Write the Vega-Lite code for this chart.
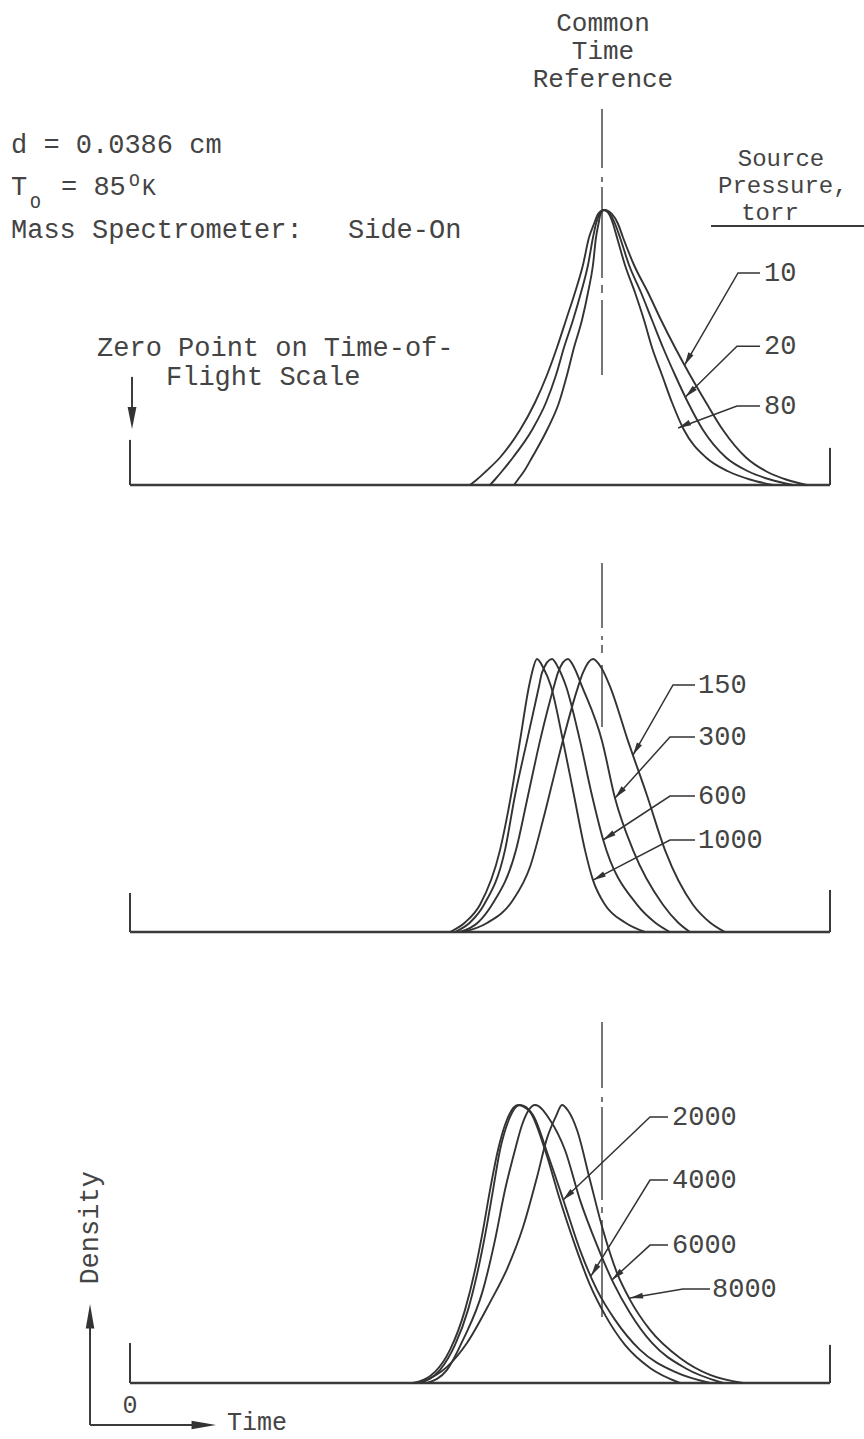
{
  "$schema": "https://vega.github.io/schema/vega-lite/v6.json",
  "background": "white",
  "padding": 0,
  "spacing": 0,
  "bounds": "flush",
  "config": {"view": {"stroke": null}},
  "resolve": {"scale": {"y": "independent"}},
  "datasets": {
    "curves": [
      {"panel":1,"p":"10","t":48.57,"d":0},{"panel":1,"p":"10","t":49.57,"d":0.02},{"panel":1,"p":"10","t":50.86,"d":0.05},{"panel":1,"p":"10","t":52.86,"d":0.1},{"panel":1,"p":"10","t":55.71,"d":0.2},{"panel":1,"p":"10","t":57.86,"d":0.3},{"panel":1,"p":"10","t":59.57,"d":0.4},{"panel":1,"p":"10","t":61.0,"d":0.5},{"panel":1,"p":"10","t":62.29,"d":0.6},{"panel":1,"p":"10","t":63.57,"d":0.7},{"panel":1,"p":"10","t":64.71,"d":0.8},{"panel":1,"p":"10","t":65.57,"d":0.9},{"panel":1,"p":"10","t":66.29,"d":0.95},{"panel":1,"p":"10","t":66.86,"d":0.985},{"panel":1,"p":"10","t":67.71,"d":1.0},{"panel":1,"p":"10","t":68.86,"d":0.985},{"panel":1,"p":"10","t":69.71,"d":0.95},{"panel":1,"p":"10","t":70.43,"d":0.9},{"panel":1,"p":"10","t":72.0,"d":0.8},{"panel":1,"p":"10","t":74.0,"d":0.7},{"panel":1,"p":"10","t":75.86,"d":0.6},{"panel":1,"p":"10","t":77.86,"d":0.5},{"panel":1,"p":"10","t":80.0,"d":0.4},{"panel":1,"p":"10","t":82.29,"d":0.3},{"panel":1,"p":"10","t":84.71,"d":0.2},{"panel":1,"p":"10","t":88.0,"d":0.1},{"panel":1,"p":"10","t":90.86,"d":0.05},{"panel":1,"p":"10","t":93.71,"d":0.02},{"panel":1,"p":"10","t":96.71,"d":0},
      {"panel":1,"p":"20","t":51.43,"d":0},{"panel":1,"p":"20","t":52.14,"d":0.02},{"panel":1,"p":"20","t":53.14,"d":0.05},{"panel":1,"p":"20","t":54.71,"d":0.1},{"panel":1,"p":"20","t":57.43,"d":0.2},{"panel":1,"p":"20","t":59.43,"d":0.3},{"panel":1,"p":"20","t":60.86,"d":0.4},{"panel":1,"p":"20","t":62.0,"d":0.5},{"panel":1,"p":"20","t":63.29,"d":0.6},{"panel":1,"p":"20","t":64.43,"d":0.7},{"panel":1,"p":"20","t":65.43,"d":0.8},{"panel":1,"p":"20","t":66.14,"d":0.9},{"panel":1,"p":"20","t":66.57,"d":0.95},{"panel":1,"p":"20","t":67.07,"d":0.985},{"panel":1,"p":"20","t":67.71,"d":1.0},{"panel":1,"p":"20","t":68.57,"d":0.985},{"panel":1,"p":"20","t":69.29,"d":0.95},{"panel":1,"p":"20","t":70.0,"d":0.9},{"panel":1,"p":"20","t":71.29,"d":0.8},{"panel":1,"p":"20","t":73.0,"d":0.7},{"panel":1,"p":"20","t":74.57,"d":0.6},{"panel":1,"p":"20","t":76.14,"d":0.5},{"panel":1,"p":"20","t":77.86,"d":0.4},{"panel":1,"p":"20","t":79.71,"d":0.3},{"panel":1,"p":"20","t":81.86,"d":0.2},{"panel":1,"p":"20","t":85.14,"d":0.1},{"panel":1,"p":"20","t":88.29,"d":0.05},{"panel":1,"p":"20","t":91.43,"d":0.02},{"panel":1,"p":"20","t":94.71,"d":0},
      {"panel":1,"p":"80","t":54.86,"d":0},{"panel":1,"p":"80","t":55.43,"d":0.02},{"panel":1,"p":"80","t":56.29,"d":0.05},{"panel":1,"p":"80","t":57.43,"d":0.1},{"panel":1,"p":"80","t":59.57,"d":0.2},{"panel":1,"p":"80","t":61.29,"d":0.3},{"panel":1,"p":"80","t":62.43,"d":0.4},{"panel":1,"p":"80","t":63.43,"d":0.5},{"panel":1,"p":"80","t":64.57,"d":0.6},{"panel":1,"p":"80","t":65.43,"d":0.7},{"panel":1,"p":"80","t":66.14,"d":0.8},{"panel":1,"p":"80","t":66.57,"d":0.9},{"panel":1,"p":"80","t":66.93,"d":0.95},{"panel":1,"p":"80","t":67.21,"d":0.985},{"panel":1,"p":"80","t":67.71,"d":1.0},{"panel":1,"p":"80","t":68.43,"d":0.985},{"panel":1,"p":"80","t":69.0,"d":0.95},{"panel":1,"p":"80","t":69.57,"d":0.9},{"panel":1,"p":"80","t":70.71,"d":0.8},{"panel":1,"p":"80","t":72.14,"d":0.7},{"panel":1,"p":"80","t":73.43,"d":0.6},{"panel":1,"p":"80","t":74.57,"d":0.5},{"panel":1,"p":"80","t":76.0,"d":0.4},{"panel":1,"p":"80","t":77.43,"d":0.3},{"panel":1,"p":"80","t":79.14,"d":0.2},{"panel":1,"p":"80","t":82.29,"d":0.1},{"panel":1,"p":"80","t":85.43,"d":0.05},{"panel":1,"p":"80","t":88.57,"d":0.02},{"panel":1,"p":"80","t":91.86,"d":0},
      {"panel":2,"p":"150","t":47.57,"d":0},{"panel":2,"p":"150","t":51.0,"d":0.033},{"panel":2,"p":"150","t":54.71,"d":0.117},{"panel":2,"p":"150","t":57.14,"d":0.238},{"panel":2,"p":"150","t":59.0,"d":0.41},{"panel":2,"p":"150","t":60.43,"d":0.557},{"panel":2,"p":"150","t":61.86,"d":0.703},{"panel":2,"p":"150","t":63.86,"d":0.886},{"panel":2,"p":"150","t":64.71,"d":0.95},{"panel":2,"p":"150","t":66.14,"d":1.0},{"panel":2,"p":"150","t":67.29,"d":0.97},{"panel":2,"p":"150","t":68.57,"d":0.9},{"panel":2,"p":"150","t":71.14,"d":0.7},{"panel":2,"p":"150","t":73.86,"d":0.5},{"panel":2,"p":"150","t":76.43,"d":0.3},{"panel":2,"p":"150","t":80.43,"d":0.1},{"panel":2,"p":"150","t":82.86,"d":0.035},{"panel":2,"p":"150","t":85.0,"d":0},
      {"panel":2,"p":"300","t":47.14,"d":0},{"panel":2,"p":"300","t":49.71,"d":0.035},{"panel":2,"p":"300","t":51.71,"d":0.1},{"panel":2,"p":"300","t":55.14,"d":0.3},{"panel":2,"p":"300","t":56.86,"d":0.5},{"panel":2,"p":"300","t":58.57,"d":0.7},{"panel":2,"p":"300","t":60.57,"d":0.9},{"panel":2,"p":"300","t":61.14,"d":0.95},{"panel":2,"p":"300","t":62.57,"d":1.0},{"panel":2,"p":"300","t":63.43,"d":0.97},{"panel":2,"p":"300","t":64.57,"d":0.9},{"panel":2,"p":"300","t":67.43,"d":0.7},{"panel":2,"p":"300","t":69.29,"d":0.49},{"panel":2,"p":"300","t":71.86,"d":0.3},{"panel":2,"p":"300","t":76.14,"d":0.1},{"panel":2,"p":"300","t":78.29,"d":0.035},{"panel":2,"p":"300","t":80.0,"d":0},
      {"panel":2,"p":"600","t":46.43,"d":0},{"panel":2,"p":"600","t":48.57,"d":0.035},{"panel":2,"p":"600","t":50.57,"d":0.1},{"panel":2,"p":"600","t":53.57,"d":0.3},{"panel":2,"p":"600","t":55.0,"d":0.5},{"panel":2,"p":"600","t":56.71,"d":0.7},{"panel":2,"p":"600","t":58.43,"d":0.9},{"panel":2,"p":"600","t":58.86,"d":0.95},{"panel":2,"p":"600","t":60.29,"d":1.0},{"panel":2,"p":"600","t":61.14,"d":0.97},{"panel":2,"p":"600","t":62.29,"d":0.9},{"panel":2,"p":"600","t":64.29,"d":0.7},{"panel":2,"p":"600","t":66.0,"d":0.5},{"panel":2,"p":"600","t":67.57,"d":0.34},{"panel":2,"p":"600","t":72.43,"d":0.1},{"panel":2,"p":"600","t":75.0,"d":0.035},{"panel":2,"p":"600","t":77.14,"d":0},
      {"panel":2,"p":"1000","t":45.71,"d":0},{"panel":2,"p":"1000","t":47.86,"d":0.035},{"panel":2,"p":"1000","t":50.0,"d":0.1},{"panel":2,"p":"1000","t":52.86,"d":0.3},{"panel":2,"p":"1000","t":54.43,"d":0.5},{"panel":2,"p":"1000","t":55.71,"d":0.7},{"panel":2,"p":"1000","t":57.0,"d":0.9},{"panel":2,"p":"1000","t":57.43,"d":0.95},{"panel":2,"p":"1000","t":58.14,"d":1.0},{"panel":2,"p":"1000","t":59.0,"d":0.97},{"panel":2,"p":"1000","t":60.14,"d":0.9},{"panel":2,"p":"1000","t":61.86,"d":0.7},{"panel":2,"p":"1000","t":63.43,"d":0.5},{"panel":2,"p":"1000","t":65.0,"d":0.3},{"panel":2,"p":"1000","t":66.14,"d":0.19},{"panel":2,"p":"1000","t":67.86,"d":0.1},{"panel":2,"p":"1000","t":70.71,"d":0.035},{"panel":2,"p":"1000","t":73.57,"d":0},
      {"panel":3,"p":"2000","t":40.43,"d":0},{"panel":3,"p":"2000","t":43.57,"d":0.04},{"panel":3,"p":"2000","t":45.71,"d":0.119},{"panel":3,"p":"2000","t":47.86,"d":0.263},{"panel":3,"p":"2000","t":49.29,"d":0.406},{"panel":3,"p":"2000","t":50.43,"d":0.55},{"panel":3,"p":"2000","t":51.43,"d":0.694},{"panel":3,"p":"2000","t":52.57,"d":0.838},{"panel":3,"p":"2000","t":53.57,"d":0.928},{"panel":3,"p":"2000","t":55.43,"d":1.0},{"panel":3,"p":"2000","t":57.14,"d":0.975},{"panel":3,"p":"2000","t":59.29,"d":0.838},{"panel":3,"p":"2000","t":61.43,"d":0.658},{"panel":3,"p":"2000","t":63.57,"d":0.496},{"panel":3,"p":"2000","t":65.71,"d":0.353},{"panel":3,"p":"2000","t":67.86,"d":0.245},{"panel":3,"p":"2000","t":70.71,"d":0.137},{"panel":3,"p":"2000","t":74.29,"d":0.054},{"panel":3,"p":"2000","t":78.57,"d":0},
      {"panel":3,"p":"4000","t":41.43,"d":0},{"panel":3,"p":"4000","t":44.29,"d":0.047},{"panel":3,"p":"4000","t":46.43,"d":0.137},{"panel":3,"p":"4000","t":48.29,"d":0.263},{"panel":3,"p":"4000","t":49.71,"d":0.406},{"panel":3,"p":"4000","t":50.86,"d":0.55},{"panel":3,"p":"4000","t":51.86,"d":0.694},{"panel":3,"p":"4000","t":52.86,"d":0.838},{"panel":3,"p":"4000","t":54.0,"d":0.939},{"panel":3,"p":"4000","t":55.71,"d":1.0},{"panel":3,"p":"4000","t":57.57,"d":0.964},{"panel":3,"p":"4000","t":59.71,"d":0.82},{"panel":3,"p":"4000","t":62.14,"d":0.64},{"panel":3,"p":"4000","t":64.29,"d":0.478},{"panel":3,"p":"4000","t":66.71,"d":0.335},{"panel":3,"p":"4000","t":69.29,"d":0.227},{"panel":3,"p":"4000","t":72.86,"d":0.119},{"panel":3,"p":"4000","t":77.86,"d":0.04},{"panel":3,"p":"4000","t":82.86,"d":0},
      {"panel":3,"p":"6000","t":42.43,"d":0},{"panel":3,"p":"6000","t":45.29,"d":0.047},{"panel":3,"p":"6000","t":47.57,"d":0.155},{"panel":3,"p":"6000","t":50.43,"d":0.335},{"panel":3,"p":"6000","t":52.14,"d":0.514},{"panel":3,"p":"6000","t":53.57,"d":0.694},{"panel":3,"p":"6000","t":55.0,"d":0.838},{"panel":3,"p":"6000","t":56.0,"d":0.928},{"panel":3,"p":"6000","t":57.86,"d":1.0},{"panel":3,"p":"6000","t":60.0,"d":0.946},{"panel":3,"p":"6000","t":62.14,"d":0.838},{"panel":3,"p":"6000","t":64.29,"d":0.658},{"panel":3,"p":"6000","t":66.71,"d":0.496},{"panel":3,"p":"6000","t":69.0,"d":0.363},{"panel":3,"p":"6000","t":71.43,"d":0.252},{"panel":3,"p":"6000","t":74.57,"d":0.144},{"panel":3,"p":"6000","t":79.29,"d":0.054},{"panel":3,"p":"6000","t":84.71,"d":0},
      {"panel":3,"p":"8000","t":41.43,"d":0},{"panel":3,"p":"8000","t":45.29,"d":0.058},{"panel":3,"p":"8000","t":48.14,"d":0.144},{"panel":3,"p":"8000","t":51.43,"d":0.29},{"panel":3,"p":"8000","t":53.86,"d":0.41},{"panel":3,"p":"8000","t":56.14,"d":0.56},{"panel":3,"p":"8000","t":58.14,"d":0.74},{"panel":3,"p":"8000","t":59.57,"d":0.88},{"panel":3,"p":"8000","t":60.86,"d":0.96},{"panel":3,"p":"8000","t":61.71,"d":1.0},{"panel":3,"p":"8000","t":62.57,"d":0.98},{"panel":3,"p":"8000","t":63.86,"d":0.91},{"panel":3,"p":"8000","t":65.71,"d":0.73},{"panel":3,"p":"8000","t":67.57,"d":0.55},{"panel":3,"p":"8000","t":69.57,"d":0.396},{"panel":3,"p":"8000","t":71.43,"d":0.299},{"panel":3,"p":"8000","t":74.29,"d":0.191},{"panel":3,"p":"8000","t":78.57,"d":0.09},{"panel":3,"p":"8000","t":82.86,"d":0.029},{"panel":3,"p":"8000","t":87.57,"d":0}
    ],
    "leaders": [
      {"panel":1,"p":"10","t":79.23,"d":0.436},{"panel":1,"p":"10","t":86.86,"d":0.771},{"panel":1,"p":"10","t":90.0,"d":0.771},
      {"panel":1,"p":"20","t":79.34,"d":0.32},{"panel":1,"p":"20","t":86.71,"d":0.505},{"panel":1,"p":"20","t":90.0,"d":0.505},
      {"panel":1,"p":"80","t":78.31,"d":0.207},{"panel":1,"p":"80","t":86.71,"d":0.287},{"panel":1,"p":"80","t":90.0,"d":0.287},
      {"panel":2,"p":"150","t":71.85,"d":0.648},{"panel":2,"p":"150","t":77.57,"d":0.905},{"panel":2,"p":"150","t":80.71,"d":0.905},
      {"panel":2,"p":"300","t":69.29,"d":0.491},{"panel":2,"p":"300","t":77.14,"d":0.714},{"panel":2,"p":"300","t":80.71,"d":0.714},
      {"panel":2,"p":"600","t":67.57,"d":0.337},{"panel":2,"p":"600","t":77.14,"d":0.498},{"panel":2,"p":"600","t":80.71,"d":0.498},
      {"panel":2,"p":"1000","t":66.14,"d":0.19},{"panel":2,"p":"1000","t":77.14,"d":0.337},{"panel":2,"p":"1000","t":80.71,"d":0.337},
      {"panel":3,"p":"2000","t":61.86,"d":0.658},{"panel":3,"p":"2000","t":74.29,"d":0.957},{"panel":3,"p":"2000","t":76.86,"d":0.957},
      {"panel":3,"p":"4000","t":65.86,"d":0.385},{"panel":3,"p":"4000","t":74.29,"d":0.73},{"panel":3,"p":"4000","t":76.86,"d":0.73},
      {"panel":3,"p":"6000","t":68.86,"d":0.371},{"panel":3,"p":"6000","t":74.29,"d":0.496},{"panel":3,"p":"6000","t":76.86,"d":0.496},
      {"panel":3,"p":"8000","t":71.43,"d":0.306},{"panel":3,"p":"8000","t":79.0,"d":0.338},{"panel":3,"p":"8000","t":82.86,"d":0.338}
    ],
    "tips": [
      {"panel":1,"p":"10","t":79.23,"d":0.436,"heading":209},
      {"panel":1,"p":"20","t":79.34,"d":0.32,"heading":226},
      {"panel":1,"p":"80","t":78.31,"d":0.207,"heading":245},
      {"panel":2,"p":"150","t":71.85,"d":0.648,"heading":210},
      {"panel":2,"p":"300","t":69.29,"d":0.491,"heading":222},
      {"panel":2,"p":"600","t":67.57,"d":0.337,"heading":237},
      {"panel":2,"p":"1000","t":66.14,"d":0.19,"heading":242},
      {"panel":3,"p":"2000","t":61.86,"d":0.658,"heading":226},
      {"panel":3,"p":"4000","t":65.86,"d":0.385,"heading":212},
      {"panel":3,"p":"6000","t":68.86,"d":0.371,"heading":227},
      {"panel":3,"p":"8000","t":71.43,"d":0.306,"heading":260}
    ],
    "axisTips": [
      {"panel":1,"t":0.29,"d":0.204,"heading":180},
      {"panel":3,"t":-5.71,"d":0.284,"heading":0},
      {"panel":3,"t":12.29,"d":-0.151,"heading":90}
    ],
    "texts": [
      {"panel":1,"style":"left","text":"d = 0.0386 cm","t":-17.0,"d":1.236},
      {"panel":1,"style":"left","text":"T","t":-17.0,"d":1.084},
      {"panel":1,"style":"left","text":"= 85","t":-9.86,"d":1.084},
      {"panel":1,"style":"left","text":"Mass Spectrometer:","t":-17.0,"d":0.927},
      {"panel":1,"style":"left","text":"Side-On","t":31.14,"d":0.927},
      {"panel":1,"style":"left","text":"Zero Point on Time-of-","t":-4.71,"d":0.498},
      {"panel":1,"style":"left","text":"Flight Scale","t":5.14,"d":0.393},
      {"panel":1,"style":"head2l","text":"Pressure,","t":84.0,"d":1.087},
      {"panel":1,"style":"left","text":"10","t":90.57,"d":0.771},
      {"panel":1,"style":"left","text":"20","t":90.57,"d":0.505},
      {"panel":1,"style":"left","text":"80","t":90.57,"d":0.287},
      {"panel":1,"style":"head1","text":"Common","t":67.57,"d":1.68},
      {"panel":1,"style":"head1","text":"Time","t":67.57,"d":1.578},
      {"panel":1,"style":"head1","text":"Reference","t":67.57,"d":1.476},
      {"panel":1,"style":"head2","text":"Source","t":93.0,"d":1.185},
      {"panel":1,"style":"head2","text":"torr","t":91.43,"d":0.989},
      {"panel":1,"style":"small","text":"O","t":-0.14,"d":1.105},
      {"panel":1,"style":"small","text":"O","t":-14.29,"d":1.025},
      {"panel":1,"style":"mid","text":"K","t":1.71,"d":1.08},
      {"panel":2,"style":"left","text":"150","t":81.14,"d":0.905},
      {"panel":2,"style":"left","text":"300","t":81.14,"d":0.714},
      {"panel":2,"style":"left","text":"600","t":81.14,"d":0.498},
      {"panel":2,"style":"left","text":"1000","t":81.14,"d":0.337},
      {"panel":3,"style":"left","text":"2000","t":77.43,"d":0.957},
      {"panel":3,"style":"left","text":"4000","t":77.43,"d":0.73},
      {"panel":3,"style":"left","text":"6000","t":77.43,"d":0.496},
      {"panel":3,"style":"left","text":"8000","t":83.14,"d":0.338},
      {"panel":3,"style":"time","text":"Time","t":13.86,"d":-0.14},
      {"panel":3,"style":"center","text":"0","t":0,"d":-0.079},
      {"panel":3,"style":"rot","text":"Density","t":-5.71,"d":0.558}
    ],
    "frame": [
      {"panel":1,"kind":"base","t":0,"t2":100,"d":0,"d2":0},
      {"panel":1,"kind":"tick","t":0,"t2":0,"d":0,"d2":0.164},
      {"panel":1,"kind":"tick","t":100,"t2":100,"d":0,"d2":0.135},
      {"panel":1,"kind":"tick","t":83.0,"t2":104.86,"d":0.942,"d2":0.942},
      {"panel":1,"kind":"tick","t":0.29,"t2":0.29,"d":0.393,"d2":0.23},
      {"panel":2,"kind":"base","t":0,"t2":100,"d":0,"d2":0},
      {"panel":2,"kind":"tick","t":0,"t2":0,"d":0,"d2":0.143},
      {"panel":2,"kind":"tick","t":100,"t2":100,"d":0,"d2":0.154},
      {"panel":3,"kind":"base","t":0,"t2":100,"d":0,"d2":0},
      {"panel":3,"kind":"tick","t":0,"t2":0,"d":0,"d2":0.144},
      {"panel":3,"kind":"tick","t":100,"t2":100,"d":0,"d2":0.137},
      {"panel":3,"kind":"tick","t":-5.71,"t2":-5.71,"d":-0.151,"d2":0.25},
      {"panel":3,"kind":"tick","t":-5.71,"t2":10.0,"d":-0.151,"d2":-0.151}
    ],
    "refs": [
      {"panel":1,"t":67.43,"d":1.367,"d2":0.4},
      {"panel":2,"t":67.43,"d":1.352,"d2":0.751},
      {"panel":3,"t":67.43,"d":1.299,"d2":0.237}
    ]
  },
  "vconcat": [
    {
      "width": 864, "height": 500,
      "encoding": {
        "x": {"field":"t","type":"quantitative","axis":null,"scale":{"domain":[-18.5714,104.8571],"nice":false,"zero":false}},
        "y": {"field":"d","type":"quantitative","axis":null,"scale":{"domain":[-0.054545,1.763636],"nice":false,"zero":false}}
      },
      "layer": [
        {"data":{"name":"refs"},"transform":[{"filter":"datum.panel == 1"}],"mark":{"type":"rule","stroke":"#555","strokeWidth":1.6,"strokeDash":[59,9,5,5,91,7,8,7,80]},"encoding":{"y2":{"field":"d2"}}},
        {"data":{"name":"frame"},"transform":[{"filter":"datum.panel == 1 && datum.kind == 'base'"}],"mark":{"type":"rule","stroke":"#3a3a3a","strokeWidth":2.6},"encoding":{"x2":{"field":"t2"},"y2":{"field":"d2"}}},
        {"data":{"name":"frame"},"transform":[{"filter":"datum.panel == 1 && datum.kind == 'tick'"}],"mark":{"type":"rule","stroke":"#3a3a3a","strokeWidth":2},"encoding":{"x2":{"field":"t2"},"y2":{"field":"d2"}}},
        {"data":{"name":"curves"},"transform":[{"filter":"datum.panel == 1"}],"mark":{"type":"line","interpolate":"monotone","stroke":"#333","strokeWidth":1.9},"encoding":{"detail":{"field":"p"}}},
        {"data":{"name":"leaders"},"transform":[{"filter":"datum.panel == 1"}],"mark":{"type":"line","stroke":"#333","strokeWidth":1.5},"encoding":{"detail":{"field":"p"}}},
        {"data":{"name":"tips"},"transform":[{"filter":"datum.panel == 1"}],"mark":{"type":"point","shape":"M0,0L0.45,2L-0.45,2Z","filled":true,"fill":"#333","size":169,"opacity":1},"encoding":{"angle":{"field":"heading","type":"quantitative","scale":null}}},
        {"data":{"name":"axisTips"},"transform":[{"filter":"datum.panel == 1"}],"mark":{"type":"point","shape":"M0,0L0.4,2L-0.4,2Z","filled":true,"fill":"#333","size":484,"opacity":1},"encoding":{"angle":{"field":"heading","type":"quantitative","scale":null}}},
        {"data":{"name":"texts"},"transform":[{"filter":"datum.panel == 1 && datum.style == 'left'"}],"mark":{"type":"text","font":"Liberation Mono","fontSize":27,"fill":"#444","align":"left","baseline":"middle"},"encoding":{"text":{"field":"text"}}},
        {"data":{"name":"texts"},"transform":[{"filter":"datum.panel == 1 && datum.style == 'head1'"}],"mark":{"type":"text","font":"Liberation Mono","fontSize":26,"fill":"#444","align":"center","baseline":"middle"},"encoding":{"text":{"field":"text"}}},
        {"data":{"name":"texts"},"transform":[{"filter":"datum.panel == 1 && datum.style == 'head2'"}],"mark":{"type":"text","font":"Liberation Mono","fontSize":24,"fill":"#444","align":"center","baseline":"middle"},"encoding":{"text":{"field":"text"}}},
        {"data":{"name":"texts"},"transform":[{"filter":"datum.panel == 1 && datum.style == 'head2l'"}],"mark":{"type":"text","font":"Liberation Mono","fontSize":24,"fill":"#444","align":"left","baseline":"middle"},"encoding":{"text":{"field":"text"}}},
        {"data":{"name":"texts"},"transform":[{"filter":"datum.panel == 1 && datum.style == 'small'"}],"mark":{"type":"text","font":"Liberation Mono","fontSize":18,"fill":"#444","align":"left","baseline":"middle"},"encoding":{"text":{"field":"text"}}},
        {"data":{"name":"texts"},"transform":[{"filter":"datum.panel == 1 && datum.style == 'mid'"}],"mark":{"type":"text","font":"Liberation Mono","fontSize":23,"fill":"#444","align":"left","baseline":"middle"},"encoding":{"text":{"field":"text"}}}
      ]
    },
    {
      "width": 864, "height": 460,
      "encoding": {
        "x": {"field":"t","type":"quantitative","axis":null,"scale":{"domain":[-18.5714,104.8571],"nice":false,"zero":false}},
        "y": {"field":"d","type":"quantitative","axis":null,"scale":{"domain":[-0.102564,1.582418],"nice":false,"zero":false}}
      },
      "layer": [
        {"data":{"name":"refs"},"transform":[{"filter":"datum.panel == 2"}],"mark":{"type":"rule","stroke":"#555","strokeWidth":1.6,"strokeDash":[65,8,4,5,8,12,70]},"encoding":{"y2":{"field":"d2"}}},
        {"data":{"name":"frame"},"transform":[{"filter":"datum.panel == 2 && datum.kind == 'base'"}],"mark":{"type":"rule","stroke":"#3a3a3a","strokeWidth":2.6},"encoding":{"x2":{"field":"t2"},"y2":{"field":"d2"}}},
        {"data":{"name":"frame"},"transform":[{"filter":"datum.panel == 2 && datum.kind == 'tick'"}],"mark":{"type":"rule","stroke":"#3a3a3a","strokeWidth":2},"encoding":{"x2":{"field":"t2"},"y2":{"field":"d2"}}},
        {"data":{"name":"curves"},"transform":[{"filter":"datum.panel == 2"}],"mark":{"type":"line","interpolate":"monotone","stroke":"#333","strokeWidth":1.9},"encoding":{"detail":{"field":"p"}}},
        {"data":{"name":"leaders"},"transform":[{"filter":"datum.panel == 2"}],"mark":{"type":"line","stroke":"#333","strokeWidth":1.5},"encoding":{"detail":{"field":"p"}}},
        {"data":{"name":"tips"},"transform":[{"filter":"datum.panel == 2"}],"mark":{"type":"point","shape":"M0,0L0.45,2L-0.45,2Z","filled":true,"fill":"#333","size":169,"opacity":1},"encoding":{"angle":{"field":"heading","type":"quantitative","scale":null}}},
        {"data":{"name":"texts"},"transform":[{"filter":"datum.panel == 2 && datum.style == 'left'"}],"mark":{"type":"text","font":"Liberation Mono","fontSize":27,"fill":"#444","align":"left","baseline":"middle"},"encoding":{"text":{"field":"text"}}}
      ]
    },
    {
      "width": 864, "height": 479,
      "encoding": {
        "x": {"field":"t","type":"quantitative","axis":null,"scale":{"domain":[-18.5714,104.8571],"nice":false,"zero":false}},
        "y": {"field":"d","type":"quantitative","axis":null,"scale":{"domain":[-0.201439,1.521583],"nice":false,"zero":false}}
      },
      "layer": [
        {"data":{"name":"refs"},"transform":[{"filter":"datum.panel == 3"}],"mark":{"type":"rule","stroke":"#555","strokeWidth":1.6,"strokeDash":[66,9,5,5,93,7,6,7,110]},"encoding":{"y2":{"field":"d2"}}},
        {"data":{"name":"frame"},"transform":[{"filter":"datum.panel == 3 && datum.kind == 'base'"}],"mark":{"type":"rule","stroke":"#3a3a3a","strokeWidth":2.6},"encoding":{"x2":{"field":"t2"},"y2":{"field":"d2"}}},
        {"data":{"name":"frame"},"transform":[{"filter":"datum.panel == 3 && datum.kind == 'tick'"}],"mark":{"type":"rule","stroke":"#3a3a3a","strokeWidth":2},"encoding":{"x2":{"field":"t2"},"y2":{"field":"d2"}}},
        {"data":{"name":"curves"},"transform":[{"filter":"datum.panel == 3"}],"mark":{"type":"line","interpolate":"monotone","stroke":"#333","strokeWidth":1.9},"encoding":{"detail":{"field":"p"}}},
        {"data":{"name":"leaders"},"transform":[{"filter":"datum.panel == 3"}],"mark":{"type":"line","stroke":"#333","strokeWidth":1.5},"encoding":{"detail":{"field":"p"}}},
        {"data":{"name":"tips"},"transform":[{"filter":"datum.panel == 3"}],"mark":{"type":"point","shape":"M0,0L0.45,2L-0.45,2Z","filled":true,"fill":"#333","size":169,"opacity":1},"encoding":{"angle":{"field":"heading","type":"quantitative","scale":null}}},
        {"data":{"name":"axisTips"},"transform":[{"filter":"datum.panel == 3"}],"mark":{"type":"point","shape":"M0,0L0.35,2L-0.35,2Z","filled":true,"fill":"#333","size":600,"opacity":1},"encoding":{"angle":{"field":"heading","type":"quantitative","scale":null}}},
        {"data":{"name":"texts"},"transform":[{"filter":"datum.panel == 3 && datum.style == 'left'"}],"mark":{"type":"text","font":"Liberation Mono","fontSize":27,"fill":"#444","align":"left","baseline":"middle"},"encoding":{"text":{"field":"text"}}},
        {"data":{"name":"texts"},"transform":[{"filter":"datum.panel == 3 && datum.style == 'time'"}],"mark":{"type":"text","font":"Liberation Mono","fontSize":25,"fill":"#444","align":"left","baseline":"middle"},"encoding":{"text":{"field":"text"}}},
        {"data":{"name":"texts"},"transform":[{"filter":"datum.panel == 3 && datum.style == 'center'"}],"mark":{"type":"text","font":"Liberation Mono","fontSize":25,"fill":"#444","align":"center","baseline":"middle"},"encoding":{"text":{"field":"text"}}},
        {"data":{"name":"texts"},"transform":[{"filter":"datum.panel == 3 && datum.style == 'rot'"}],"mark":{"type":"text","font":"Liberation Mono","fontSize":27,"fill":"#444","align":"center","baseline":"middle","angle":270},"encoding":{"text":{"field":"text"}}}
      ]
    }
  ]
}
